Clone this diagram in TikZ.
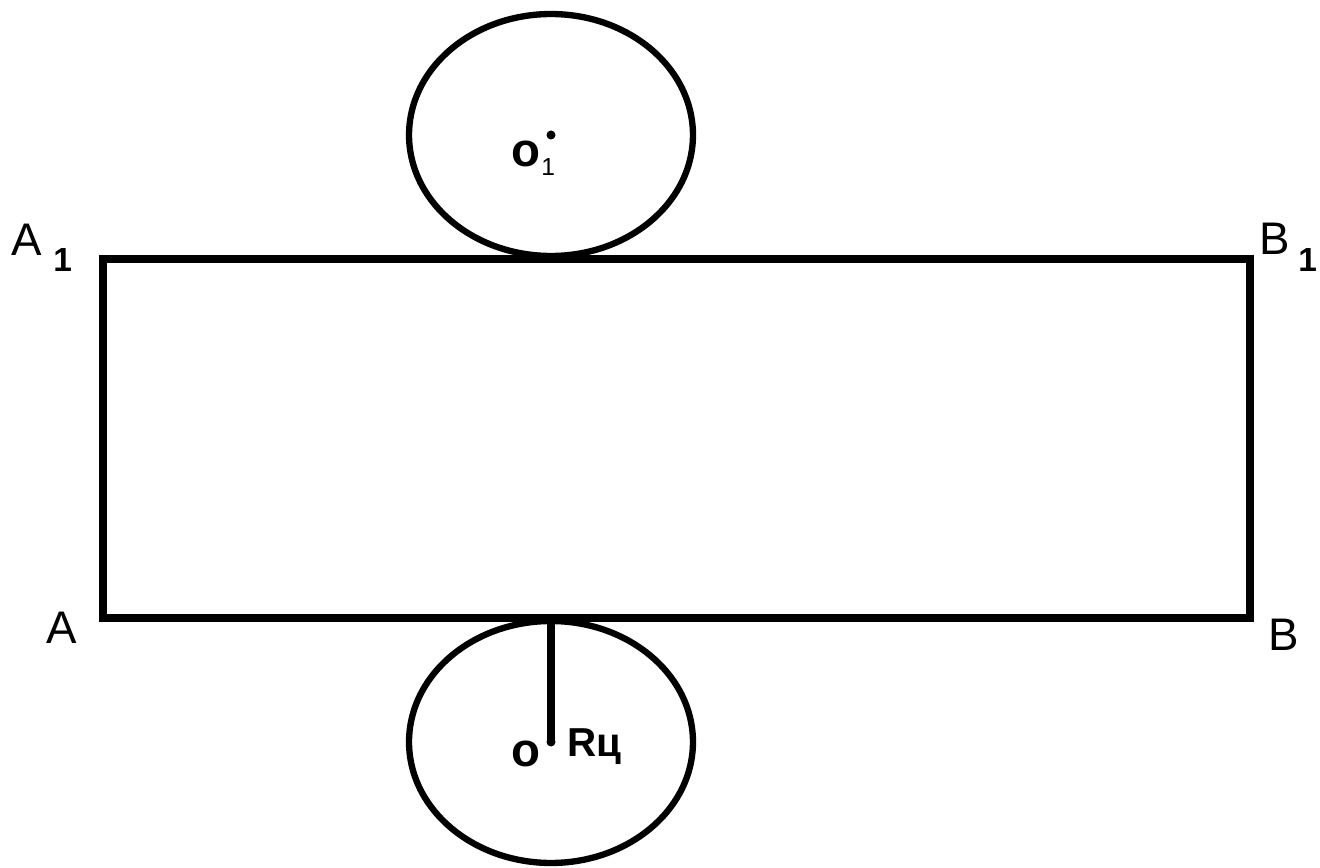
\documentclass[tikz,border=0pt]{standalone}
\usepackage{fontspec}
\setmainfont{Liberation Sans}

\begin{document}
\begin{tikzpicture}[
  x=0.02cm, y=-0.02cm,
  net/.style={draw, line width=4.5pt, line join=miter},
  base/.style={draw, line width=3.6pt},
  radius/.style={draw, line width=4pt},
  vertex/.style={font=\fontsize{26}{26}\selectfont, inner sep=0pt, anchor=base west},
  vindex/.style={font=\fontsize{19}{19}\selectfont\bfseries, inner sep=0pt, anchor=base west},
  centre/.style={font=\fontsize{27}{27}\selectfont\bfseries, inner sep=0pt, anchor=base west},
  sub/.style={font=\fontsize{14}{14}\selectfont, inner sep=0pt, anchor=base west}
  ]

\useasboundingbox (0,0) rectangle (1320,868);

% Corners of the lateral surface
\coordinate (A) at (103,618);
\coordinate (B) at (1250,618);
\coordinate (B1) at (1250,259);
\coordinate (A1) at (103,259);
\draw[net] (A) -- (B) -- (B1) -- (A1) -- cycle;

% Bases
\coordinate (O1) at (551,135);
\coordinate (O) at (551,742);
\coordinate (T) at (551,618);
\draw[base] (O1) ellipse [x radius=2.84cm, y radius=2.42cm];
\draw[base] (O) ellipse [x radius=2.84cm, y radius=2.42cm];
\fill (O1) circle (0.09cm);
\fill (O) circle (0.09cm);

% Radius
\draw[radius] (T) -- (O);

% Labels
\node[vertex] (lA1) at (11,256) {A};
\node[vindex] (iA1) at (53,272) {1};
\node[vertex] (lB1) at (1259,255) {B};
\node[vindex] (iB1) at (1298,272) {1};
\node[vertex] (lA) at (46,643) {A};
\node[vertex] (lB) at (1268,650) {B};
\node[centre] (lO1) at (511,167) {o};
\node[sub] (iO1) at (541,176) {1};
\node[centre] (lO) at (511,766) {o};
\node[font=\fontsize{23}{23}\selectfont\bfseries, inner sep=0pt, anchor=base west] (lR) at (567,756) {Rц};

\end{tikzpicture}
\end{document}
